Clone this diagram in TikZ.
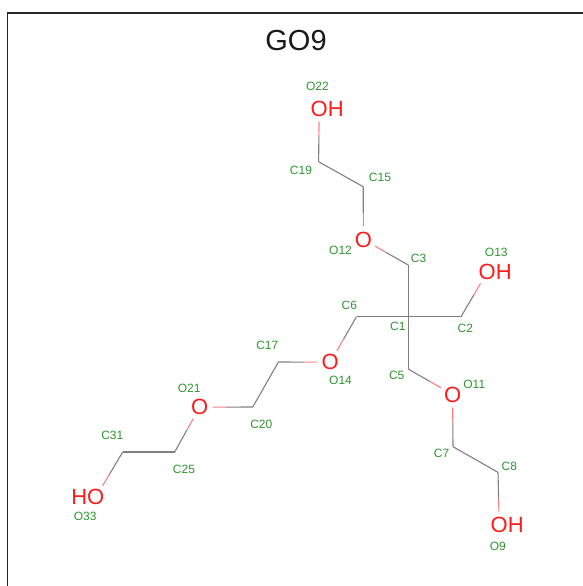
\documentclass[tikz,border=0pt]{standalone}
\usepackage{fontspec}
\setmainfont{Liberation Sans}
\usetikzlibrary{calc}
\definecolor{bondgrey}{HTML}{808080}
\definecolor{bondred}{HTML}{FF8080}
\definecolor{atomred}{HTML}{FF1A1A}
\definecolor{labgreen}{HTML}{2E962E}
\tikzset{
  atom/.style={shape=circle,inner sep=1pt,xshift=0.6pt,yshift=-0.5pt,text=atomred,font=\fontsize{22}{22}\selectfont},
  lab/.style={inner sep=0pt,yshift=-0.7pt,text=labgreen,font=\fontsize{12}{12}\selectfont},
  cbond/.style={draw=bondgrey,line width=1.1pt},
  obond/.style={draw=bondred,line width=1.1pt},
  frameline/.style={draw=black!85,line width=1.2pt},
  titletext/.style={inner sep=0pt,text=black!90,font=\fontsize{29}{29}\selectfont}
}
\newcommand{\hetbond}[2]{%
  \draw[cbond] (#1) -- ($(#1)!.5!(#2)$);
  \draw[obond] ($(#1)!.5!(#2)$) -- (#2);
}
\begin{document}
\begin{tikzpicture}[x=1pt,y=-1pt]
\useasboundingbox (0,0) rectangle (583,586);
\coordinate (frameA) at (7.5,586);
\coordinate (frameB) at (7.5,13);
\coordinate (frameC) at (583,13);
\draw[frameline] (frameA) -- (frameB) -- (frameC);
\node[titletext] (title) at (296,40.5) {GO9};
% carbon positions
\coordinate (C1) at (408.2,316.7);
\coordinate (C2) at (461,316.7);
\coordinate (C3) at (408.2,265);
\coordinate (C5) at (408.2,369);
\coordinate (C6) at (356.5,316.7);
\coordinate (C7) at (453,446.7);
\coordinate (C8) at (498,472.3);
\coordinate (C15) at (363.2,186.7);
\coordinate (C17) at (278.4,362);
\coordinate (C19) at (318.6,161.7);
\coordinate (C20) at (252.8,407);
\coordinate (C25) at (174.7,452);
\coordinate (C31) at (122.7,452);
% oxygen atoms
\node[atom] (O9) at (498.6,524.3) {O\rlap{H}};
\node[atom] (O11) at (452,394) {O};
\node[atom] (O12) at (362.8,239) {O};
\node[atom] (O13) at (486.6,271.7) {O\rlap{H}};
\node[atom] (O14) at (329.7,361.7) {O};
\node[atom] (O21) at (199,406.7) {O};
\node[atom] (O22) at (318.6,108) {O\rlap{H}};
\node[atom] (O33) at (95.2,496.7) {\llap{H}O};
% bonds
\draw[cbond] (C1) -- (C2);
\draw[cbond] (C1) -- (C3);
\draw[cbond] (C1) -- (C5);
\draw[cbond] (C1) -- (C6);
\draw[cbond] (C7) -- (C8);
\draw[cbond] (C15) -- (C19);
\draw[cbond] (C17) -- (C20);
\draw[cbond] (C25) -- (C31);
\hetbond{C2}{O13}
\hetbond{C3}{O12}
\hetbond{C5}{O11}
\hetbond{C6}{O14}
\hetbond{C7}{O11}
\hetbond{C8}{O9}
\hetbond{C15}{O12}
\hetbond{C17}{O14}
\hetbond{C19}{O22}
\hetbond{C20}{O21}
\hetbond{C25}{O21}
\hetbond{C31}{O33}
% atom labels
\node[lab] (lO22) at (317.5,86) {O22};
\node[lab] (lC19) at (301,169.3) {C19};
\node[lab] (lC15) at (380,176.7) {C15};
\node[lab] (lO12) at (340.5,249.3) {O12};
\node[lab] (lC3) at (418.6,257.7) {C3};
\node[lab] (lO13) at (496.3,251.7) {O13};
\node[lab] (lC6) at (349.4,305) {C6};
\node[lab] (lC1) at (397.8,325.7) {C1};
\node[lab] (lC2) at (465.4,328) {C2};
\node[lab] (lC17) at (267.3,344.7) {C17};
\node[lab] (lO14) at (340.5,380) {O14};
\node[lab] (lC5) at (396.7,375) {C5};
\node[lab] (lO11) at (474.3,383.7) {O11};
\node[lab] (lO21) at (189.2,387.3) {O21};
\node[lab] (lC20) at (261.3,423.7) {C20};
\node[lab] (lC31) at (112.3,434.3) {C31};
\node[lab] (lC25) at (184,468.3) {C25};
\node[lab] (lC7) at (441.6,452.3) {C7};
\node[lab] (lC8) at (509.3,466) {C8};
\node[lab] (lO33) at (85.1,515.7) {O33};
\node[lab] (lO9) at (497.8,545.7) {O9};
\end{tikzpicture}
\end{document}
